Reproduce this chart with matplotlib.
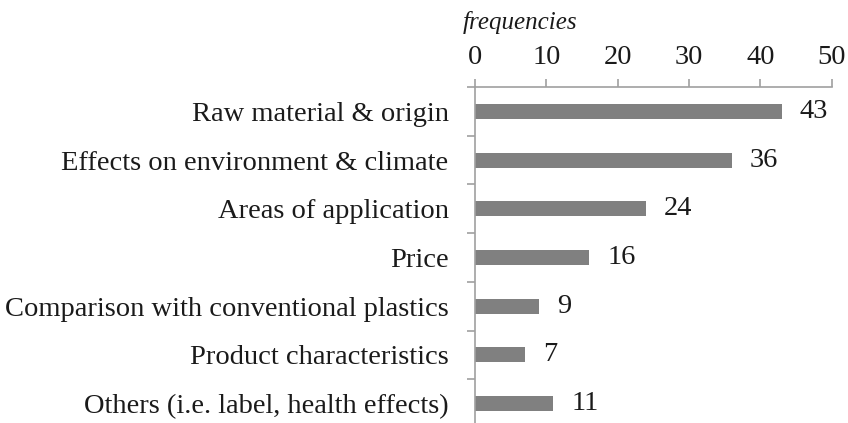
import matplotlib
matplotlib.use("Agg")
import matplotlib.pyplot as plt
import numpy as np

categories = [
    "Raw material & origin",
    "Effects on environment & climate",
    "Areas of application",
    "Price",
    "Comparison with conventional plastics",
    "Product characteristics",
    "Others (i.e. label, health effects)",
]
frequencies = [43, 36, 24, 16, 9, 7, 11]
x_ticks = [0, 10, 20, 30, 40, 50]

plt.rcParams["font.family"] = ["Liberation Serif", "DejaVu Serif"]

fig = plt.figure(figsize=(8.48, 4.23), dpi=100)
ax = fig.add_axes([0.5601, -0.0118, 0.4206, 0.8061])

y = np.arange(len(categories))
ax.barh(y, frequencies, height=0.31, color="#808080", zorder=2)

for yi, v in zip(y, frequencies):
    ax.annotate(str(v), (v, yi), xytext=(13, 0), textcoords="offset points",
                ha="left", va="center", fontsize=20.5, color="#1a1a1a")

ax.set_xlim(0, 50)
ax.set_ylim(len(categories) - 0.5, -0.5)
ax.xaxis.tick_top()
ax.set_xticks(x_ticks)
ax.set_xticklabels([str(t) for t in x_ticks])
ax.tick_params(axis="x", direction="out", length=6, width=1.2, color="#a0a0a0",
               labelsize=20.5, pad=6, labelcolor="#1a1a1a")

ax.set_yticks(y)
ax.set_yticklabels(categories)
ax.set_yticks(np.arange(-0.5, len(categories), 1.0), minor=True)
ax.tick_params(axis="y", which="major", length=0, labelsize=20.5, pad=19,
               labelcolor="#1a1a1a")
ax.tick_params(axis="y", which="minor", direction="out", length=6, width=1.2,
               color="#a0a0a0")

for side in ("right", "bottom"):
    ax.spines[side].set_visible(False)
for side in ("top", "left"):
    ax.spines[side].set_color("#a0a0a0")
    ax.spines[side].set_linewidth(1.2)

fig.text(463 / 848, 1 - 11 / 423, "frequencies", style="italic", fontsize=18,
         ha="left", va="top", color="#1a1a1a")

fig.savefig("out.png", dpi=100)
